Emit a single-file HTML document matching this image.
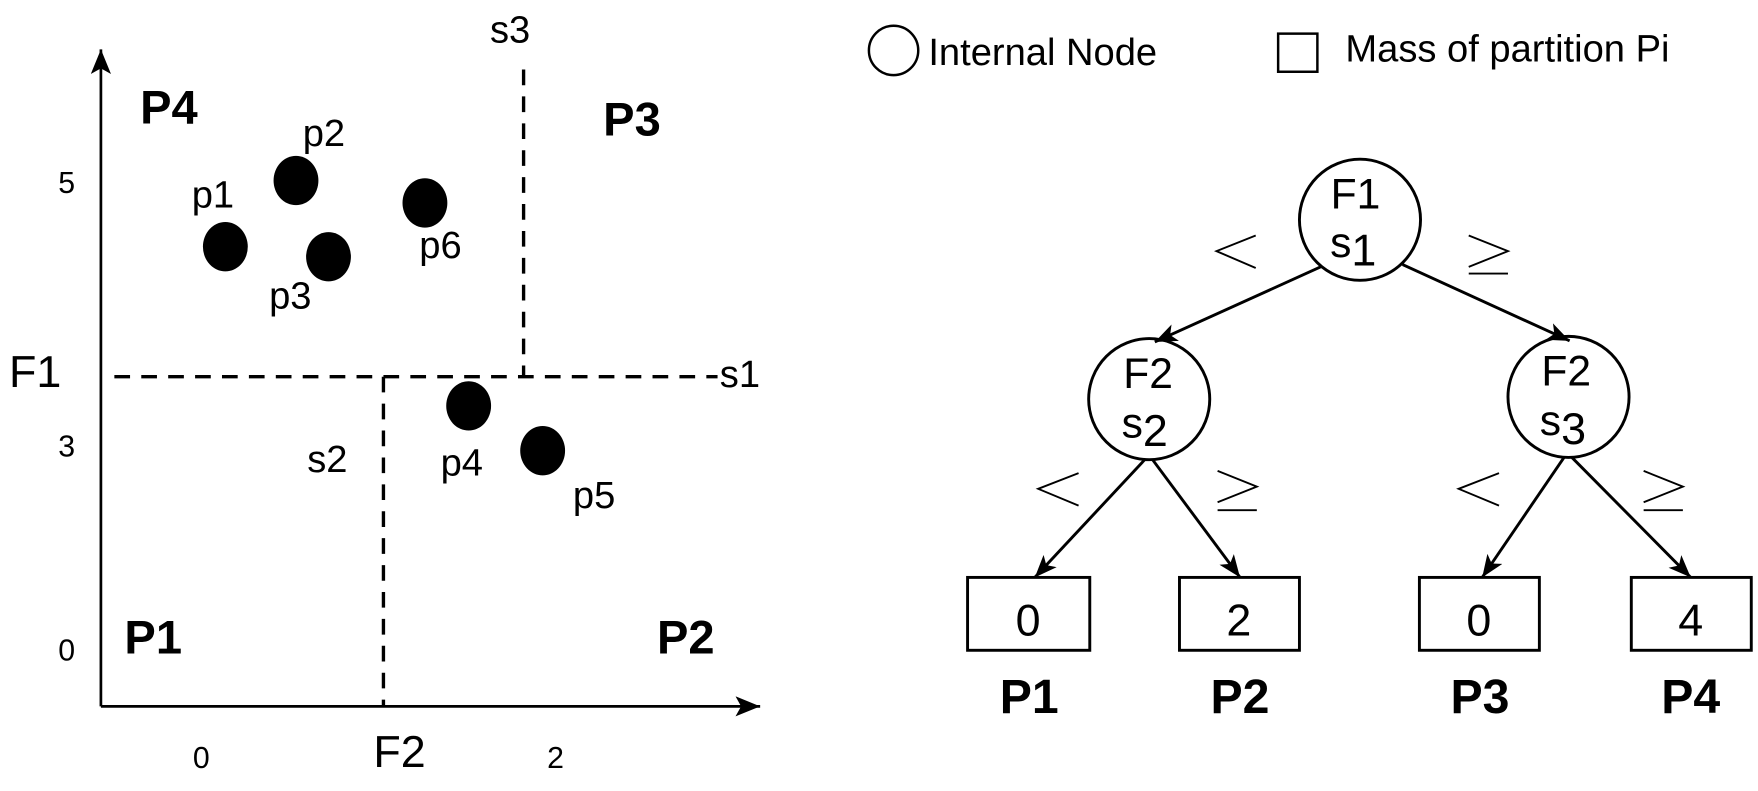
<!DOCTYPE html>
<html><head><meta charset="utf-8"><style>html,body{margin:0;padding:0;background:#fff}svg{display:block}</style></head>
<body>
<svg width="1758" height="791" viewBox="0 0 1568 705.5" preserveAspectRatio="none" xmlns="http://www.w3.org/2000/svg" font-family="Liberation Sans, sans-serif">
<defs>
<marker id="a" markerWidth="22" markerHeight="16" refX="20" refY="8" orient="auto" markerUnits="userSpaceOnUse"><path d="M0,0 L20,8 L0,16 L5,8 Z" fill="#000"/></marker>
<marker id="b" markerWidth="24" markerHeight="18" refX="22" refY="9" orient="auto" markerUnits="userSpaceOnUse"><path d="M0,0 L22,9 L0,18 L5,9 Z" fill="#000"/></marker>
</defs>
<rect width="1568" height="706" fill="#fff"/>
<g stroke="#000" stroke-width="2.4" fill="none">
<line x1="90" y1="630" x2="90" y2="44" marker-end="url(#b)"/>
<line x1="90" y1="630" x2="678" y2="630" marker-end="url(#b)"/>
</g>
<g stroke="#000" stroke-width="3" fill="none" stroke-dasharray="14,10">
<line x1="102" y1="336" x2="640" y2="336"/>
<line x1="467" y1="62" x2="467" y2="336"/>
<line x1="342" y1="336" x2="342" y2="630"/>
</g>
<g fill="#000">
<ellipse cx="201" cy="220" rx="20" ry="22"/>
<ellipse cx="264" cy="161" rx="20" ry="22"/>
<ellipse cx="293" cy="229" rx="20" ry="22"/>
<ellipse cx="379" cy="181" rx="20" ry="22"/>
<ellipse cx="418" cy="362" rx="20" ry="22"/>
<ellipse cx="484" cy="402" rx="20" ry="22"/>
</g>
<g font-size="34" fill="#000">
<text x="171" y="185">p1</text>
<text x="270" y="130">p2</text>
<text x="240" y="275">p3</text>
<text x="374" y="230">p6</text>
<text x="393" y="424">p4</text>
<text x="511" y="453">p5</text>
<text x="437" y="38">s3</text>
<text x="642" y="345">s1</text>
<text x="274" y="421">s2</text>
<text x="8" y="345" font-size="40">F1</text>
<text x="333" y="684" font-size="40">F2</text>
<text x="52" y="172" font-size="27">5</text>
<text x="52" y="407" font-size="27">3</text>
<text x="52" y="589" font-size="27">0</text>
<text x="172" y="685" font-size="27">0</text>
<text x="488" y="685" font-size="27">2</text>
</g>
<g font-size="42" font-weight="bold" fill="#000">
<text x="125" y="110">P4</text>
<text x="538" y="121">P3</text>
<text x="111" y="583">P1</text>
<text x="586" y="583">P2</text>
</g>
<!-- legend -->
<circle cx="797" cy="45" r="22" stroke="#000" stroke-width="2.2" fill="none"/>
<text x="828" y="58" font-size="34">Internal Node</text>
<rect x="1140" y="30" width="35" height="34" stroke="#000" stroke-width="2.2" fill="none"/>
<text x="1200" y="55" font-size="34">Mass of partition Pi</text>
<!-- tree -->
<g stroke="#000" stroke-width="2.6" fill="none">
<circle cx="1213" cy="196" r="54"/>
<circle cx="1025" cy="356" r="54"/>
<circle cx="1399" cy="354" r="54"/>
<rect x="863" y="515" width="109" height="65"/>
<rect x="1052" y="515" width="107" height="65"/>
<rect x="1266" y="515" width="107" height="65"/>
<rect x="1455" y="515" width="107" height="65"/>
<line x1="1178" y1="238" x2="1030" y2="305" marker-end="url(#a)"/>
<line x1="1251" y1="236" x2="1400" y2="304" marker-end="url(#a)"/>
<line x1="1021" y1="410" x2="923" y2="515" marker-end="url(#a)"/>
<line x1="1028" y1="410" x2="1106" y2="515" marker-end="url(#a)"/>
<line x1="1395" y1="408" x2="1322" y2="515" marker-end="url(#a)"/>
<line x1="1402" y1="408" x2="1508" y2="515" marker-end="url(#a)"/>
</g>
<g font-size="38" fill="#000" text-anchor="middle">
<text x="1209" y="186">F1</text>
<text x="1207" y="229">s<tspan font-size="40" dy="8">1</tspan></text>
<text x="1024" y="346">F2</text>
<text x="1021" y="390">s<tspan font-size="40" dy="8">2</tspan></text>
<text x="1397" y="344">F2</text>
<text x="1394" y="388">s<tspan font-size="40" dy="8">3</tspan></text>
<text x="917" y="567" font-size="40">0</text>
<text x="1105" y="567" font-size="40">2</text>
<text x="1319" y="567" font-size="40">0</text>
<text x="1508" y="567" font-size="40">4</text>
</g>
<g font-size="43" font-weight="bold" fill="#000" text-anchor="middle">
<text x="918" y="636">P1</text>
<text x="1106" y="636">P2</text>
<text x="1320" y="636">P3</text>
<text x="1508" y="636">P4</text>
</g>
<g stroke="#000" stroke-width="1.7" fill="none">
<polyline points="1120,210 1085,224 1120,239"/>
<polyline points="1310,210 1345,224 1310,238"/><line x1="1310" y1="244" x2="1345" y2="244"/>
<polyline points="962,422 926,436 962,451"/>
<polyline points="1086,420 1121,434 1086,448"/><line x1="1086" y1="455" x2="1121" y2="455"/>
<polyline points="1337,422 1301,436 1337,451"/>
<polyline points="1466,420 1501,434 1466,448"/><line x1="1466" y1="455" x2="1501" y2="455"/>
</g>
</svg>
</body></html>
